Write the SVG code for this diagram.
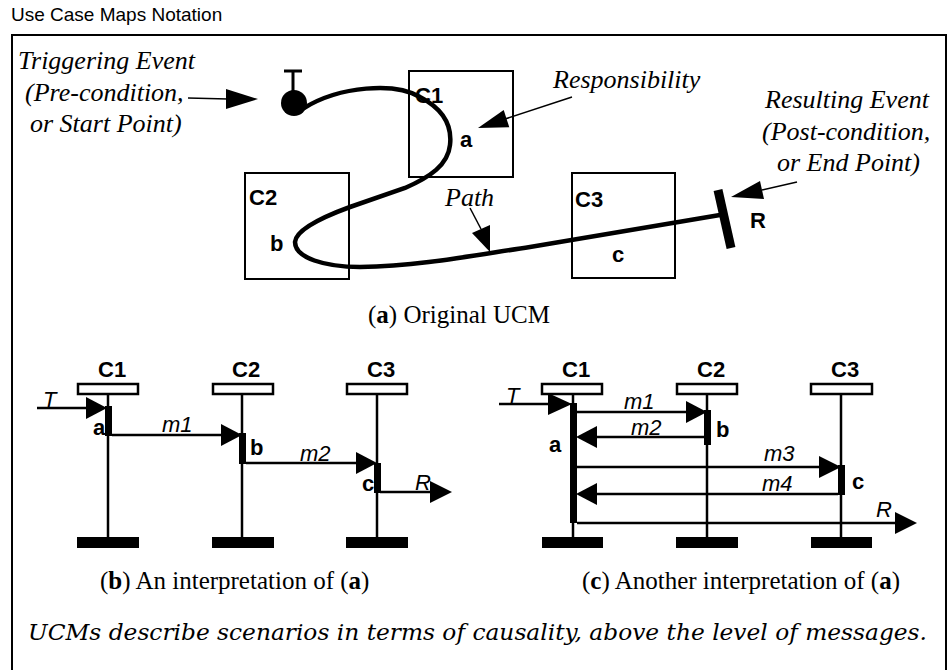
<svg xmlns="http://www.w3.org/2000/svg" width="948" height="670" viewBox="0 0 948 670">
<style>
.ti{font-family:"Liberation Sans",Arial,sans-serif;font-size:19px;fill:#000}
.lab{font-family:"Liberation Serif","Times New Roman",serif;font-style:italic;font-size:26px;fill:#000}
.cap{font-family:"Liberation Serif","Times New Roman",serif;font-size:25px;fill:#000}
.b{font-weight:bold}
.nm{font-family:"Liberation Sans",Arial,sans-serif;font-weight:bold;font-size:22px;fill:#000}
.msg{font-family:"Liberation Sans",Arial,sans-serif;font-style:italic;font-size:22px;fill:#000}
.box{fill:none;stroke:#000;stroke-width:2}
.hdr{fill:#fff;stroke:#000;stroke-width:2.5}
.ll{stroke:#000;stroke-width:2.5;fill:none}
.ln{stroke:#000;stroke-width:2.5;fill:none}
.thin{stroke:#000;stroke-width:1.5;fill:none}
.act{fill:#000}
.foot{font-family:"DejaVu Serif","Liberation Serif",serif;font-style:italic;font-size:22px;fill:#000}
</style>
<rect width="948" height="670" fill="#fff"/>
<text class="ti" x="11" y="21">Use Case Maps Notation</text>
<rect x="12" y="35" width="934" height="650" fill="none" stroke="#000" stroke-width="2"/>

<!-- (a) Original UCM -->
<g id="components-a">
  <g id="C1a"><rect class="box" x="409" y="71" width="104" height="106"/><text class="nm" x="415" y="103">C1</text></g>
  <g id="C2a"><rect class="box" x="245" y="173" width="104" height="106"/><text class="nm" x="249" y="205">C2</text></g>
  <g id="C3a"><rect class="box" x="572" y="173" width="103" height="105"/><text class="nm" x="575" y="207">C3</text></g>
</g>
<g id="start-point">
  <circle cx="294" cy="103" r="13" fill="#000"/>
  <line x1="293" y1="71" x2="293" y2="92" stroke="#000" stroke-width="3"/>
  <line x1="284" y1="71" x2="302" y2="71" stroke="#000" stroke-width="3"/>
</g>
<g id="end-point">
  <line x1="718" y1="190" x2="731" y2="248" stroke="#000" stroke-width="9"/>
  <text class="nm" x="750" y="228">R</text>
</g>
<g id="path-a">
  <path d="M 304,108 C 340,86 395,82 420,97 C 445,110 452,128 450,145 C 448,165 430,177 405,188 L 350,207 C 320,218 296,230 295,242 C 295,258 325,267 360,267 C 420,266 470,256 530,247 L 720,215" fill="none" stroke="#000" stroke-width="4.5" stroke-linecap="round"/>
</g>
<g id="resp-labels">
  <text class="nm" x="460" y="147">a</text>
  <text class="nm" x="270" y="251">b</text>
  <text class="nm" x="612" y="262">c</text>
</g>
<g id="annotations">
  <text class="lab" x="18" y="69">Triggering Event</text>
  <text class="lab" x="25" y="101">(Pre-condition,</text>
  <text class="lab" x="30" y="132">or Start Point)</text>
  <line class="thin" x1="188" y1="98" x2="228" y2="99"/>
  <polygon points="226,89 258,99 226,109" fill="#000"/>
  <text class="lab" x="553" y="88">Responsibility</text>
  <line class="thin" x1="572" y1="97" x2="505" y2="119"/>
  <polygon points="478,128 503.7,110 509.3,127.3" fill="#000"/>
  <text class="lab" x="765" y="108">Resulting Event</text>
  <text class="lab" x="762" y="140">(Post-condition,</text>
  <text class="lab" x="777" y="171">or End Point)</text>
  <line class="thin" x1="797" y1="182" x2="762" y2="190"/>
  <polygon points="731,197 760,181 764,199" fill="#000"/>
  <text class="lab" x="445" y="206">Path</text>
  <line class="thin" x1="470" y1="208" x2="481" y2="229"/>
  <polygon points="490,252 472,233 490,225" fill="#000"/>
</g>
<text class="cap" x="368" y="323">(<tspan class="b">a</tspan>) Original UCM</text>

<!-- (b) -->
<g id="C1b"><text class="nm" x="98" y="377">C1</text><rect class="hdr" x="78" y="384" width="60" height="10"/><line class="ll" x1="108" y1="394" x2="108" y2="538"/><rect x="77" y="537" width="62" height="11" fill="#000"/></g>
<g id="C2b"><text class="nm" x="232" y="377">C2</text><rect class="hdr" x="213" y="384" width="60" height="10"/><line class="ll" x1="242" y1="394" x2="242" y2="538"/><rect x="212" y="537" width="62" height="11" fill="#000"/></g>
<g id="C3b"><text class="nm" x="367" y="377">C3</text><rect class="hdr" x="347" y="384" width="60" height="10"/><line class="ll" x1="377" y1="394" x2="377" y2="538"/><rect x="346" y="537" width="62" height="11" fill="#000"/></g>
<g id="acts-b">
  <rect class="act" x="105" y="406" width="7" height="30"/>
  <rect class="act" x="239" y="433" width="7" height="31"/>
  <rect class="act" x="374" y="463" width="7" height="30"/>
</g>
<g id="msgs-b">
  <line class="ln" x1="37" y1="408" x2="90" y2="408"/><polygon points="86,397 107,408 86,419" fill="#000"/>
  <line class="ln" x1="112" y1="435" x2="224" y2="435"/><polygon points="221,424 242,435 221,446" fill="#000"/>
  <line class="ln" x1="246" y1="463" x2="358" y2="463"/><polygon points="356,452 377,463 356,474" fill="#000"/>
  <line class="ln" x1="380" y1="492" x2="432" y2="492"/><polygon points="430,481 452,492 430,503" fill="#000"/>
  <text class="msg" x="43" y="407">T</text>
  <text class="nm" x="93" y="435">a</text>
  <text class="msg" x="162" y="432">m1</text>
  <text class="nm" x="250" y="455">b</text>
  <text class="msg" x="300" y="461">m2</text>
  <text class="nm" x="362" y="491">c</text>
  <text class="msg" x="415" y="490">R</text>
</g>
<text class="cap" x="100" y="589">(<tspan class="b">b</tspan>) An interpretation of (<tspan class="b">a</tspan>)</text>

<!-- (c) -->
<g id="C1c"><text class="nm" x="562" y="377">C1</text><rect class="hdr" x="542" y="384" width="60" height="10"/><line class="ll" x1="573" y1="394" x2="573" y2="538"/><rect x="542" y="537" width="61" height="11" fill="#000"/></g>
<g id="C2c"><text class="nm" x="697" y="377">C2</text><rect class="hdr" x="677" y="384" width="60" height="10"/><line class="ll" x1="707" y1="394" x2="707" y2="538"/><rect x="676" y="537" width="62" height="11" fill="#000"/></g>
<g id="C3c"><text class="nm" x="831" y="377">C3</text><rect class="hdr" x="811" y="384" width="61" height="10"/><line class="ll" x1="841" y1="394" x2="841" y2="538"/><rect x="811" y="537" width="61" height="11" fill="#000"/></g>
<g id="acts-c">
  <rect class="act" x="570" y="403" width="7" height="120"/>
  <rect class="act" x="704" y="410" width="7" height="35"/>
  <rect class="act" x="838" y="465" width="7" height="30"/>
</g>
<g id="msgs-c">
  <line class="ln" x1="499" y1="404" x2="550" y2="404"/><polygon points="548,393 572,404 548,415" fill="#000"/>
  <line class="ln" x1="577" y1="412" x2="688" y2="412"/><polygon points="686,401 707,412 686,423" fill="#000"/>
  <line class="ln" x1="704" y1="437" x2="595" y2="437"/><polygon points="597,426 576,437 597,448" fill="#000"/>
  <line class="ln" x1="577" y1="467" x2="821" y2="467"/><polygon points="819,456 841,467 819,478" fill="#000"/>
  <line class="ln" x1="838" y1="494" x2="595" y2="494"/><polygon points="597,483 576,494 597,505" fill="#000"/>
  <line class="ln" x1="577" y1="523" x2="897" y2="523"/><polygon points="895,512 917,523 895,534" fill="#000"/>
  <text class="msg" x="506" y="403">T</text>
  <text class="msg" x="624" y="409">m1</text>
  <text class="nm" x="716" y="437">b</text>
  <text class="msg" x="631" y="435">m2</text>
  <text class="nm" x="549" y="452">a</text>
  <text class="msg" x="764" y="461">m3</text>
  <text class="msg" x="762" y="491">m4</text>
  <text class="nm" x="852" y="489">c</text>
  <text class="msg" x="876" y="517">R</text>
</g>
<text class="cap" x="582" y="589">(<tspan class="b">c</tspan>) Another interpretation of (<tspan class="b">a</tspan>)</text>

<text class="foot" x="28" y="640" textLength="899" lengthAdjust="spacingAndGlyphs">UCMs describe scenarios in terms of causality, above the level of messages.</text>
</svg>
